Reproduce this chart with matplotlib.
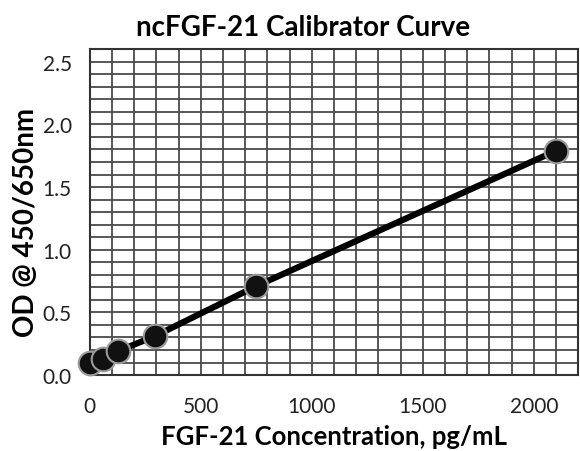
import matplotlib.pyplot as plt
from matplotlib.ticker import MultipleLocator

# calibrator points
conc = [0, 58, 125, 292, 750, 2100]
od = [0.10, 0.13, 0.19, 0.31, 0.71, 1.79]

x_ticks = [0, 500, 1000, 1500, 2000]
y_ticks = [0.0, 0.5, 1.0, 1.5, 2.0, 2.5]

plt.rcParams['font.family'] = ['Lato', 'DejaVu Sans']

fig = plt.figure(figsize=(5.8, 4.52), dpi=100)
ax = fig.add_axes([0.155, 0.168, 0.842, 0.721])

ax.plot(conc, od, color='black', linewidth=4.5, solid_capstyle='round', zorder=3)
ax.plot(conc, od, 'o', markersize=17, markerfacecolor='#111111',
        markeredgecolor='#9a9a9a', markeredgewidth=1.5, zorder=4, clip_on=False)

ax.set_xlim(0, 2200)
ax.set_ylim(0, 2.6)
ax.set_xticks(x_ticks)
ax.set_yticks(y_ticks)
ax.set_yticklabels([f'{v:.1f}' for v in y_ticks])
ax.xaxis.set_minor_locator(MultipleLocator(100))
ax.yaxis.set_minor_locator(MultipleLocator(0.1))
ax.grid(True, which='both', color='#4a4a4a', linewidth=1.3)
ax.set_axisbelow(True)
ax.tick_params(which='both', length=0, labelsize=15, colors='#222222')
ax.tick_params(axis='x', pad=15)
ax.tick_params(axis='y', pad=13)
for s in ax.spines.values():
    s.set_color('#333333')
    s.set_linewidth(1.5)

ax.set_title('ncFGF-21 Calibrator Curve', fontsize=20, fontweight='bold', pad=10, x=0.437)
ax.set_xlabel('FGF-21 Concentration, pg/mL', fontsize=18.5, fontweight='bold', labelpad=6)
ax.set_ylabel('OD @ 450/650nm', fontsize=20, fontweight='bold', labelpad=4)
ax.yaxis.set_label_coords(-0.105, 0.47)

fig.savefig('out.png', dpi=100)
